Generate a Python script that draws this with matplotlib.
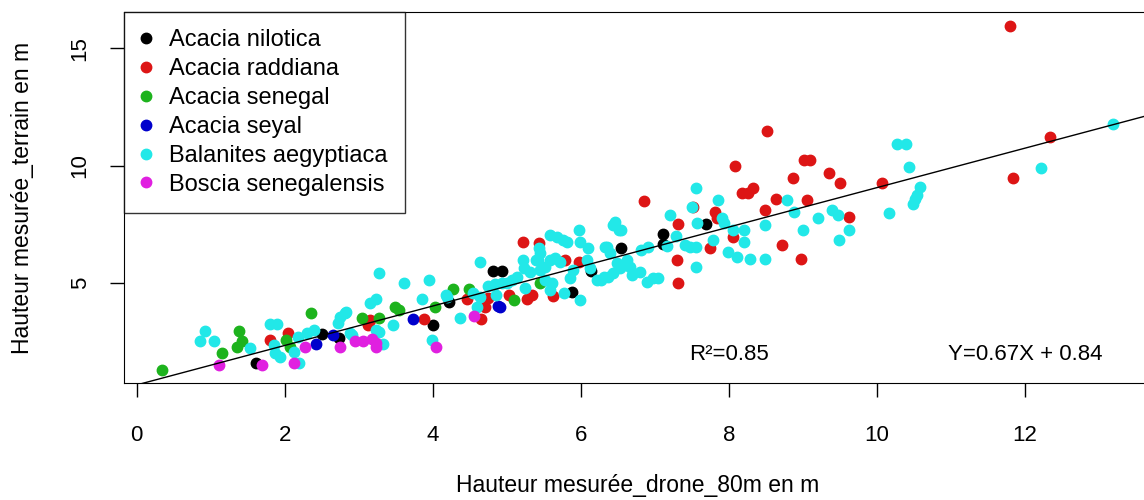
import numpy as np
import matplotlib
matplotlib.use("Agg")
from matplotlib import pyplot as plt

plt.rcParams['font.family'] = ['Liberation Sans', 'DejaVu Sans']

# valeurs (x = drone 80m, y = terrain)
nilotica_x = [1.61, 2.50, 2.74, 4.01, 4.22, 4.82, 4.94, 5.88, 6.14, 6.55, 7.11, 7.11, 7.69]
nilotica_y = [1.60, 2.84, 2.66, 3.22, 4.22, 5.52, 5.52, 4.62, 5.52, 6.52, 7.10, 6.67, 7.52]

raddiana_x = [1.80, 2.05, 3.15, 3.13, 3.88, 4.46, 4.65, 4.71, 4.75, 5.03, 5.27, 5.34, 5.22, 5.43,
              5.63, 5.79, 5.98, 6.86, 7.32, 7.30, 7.31, 7.52, 7.75, 7.81, 7.84, 8.05, 8.08, 8.18,
              8.26, 8.33, 8.51, 8.49, 8.64, 8.72, 8.87, 8.97, 9.01, 9.10, 9.06, 9.35, 9.50, 9.62,
              10.07, 11.80, 11.84, 12.34]
raddiana_y = [2.59, 2.87, 3.45, 3.22, 3.48, 4.32, 3.48, 4.00, 4.36, 4.50, 4.32, 4.50, 6.77, 6.70,
              4.47, 5.99, 5.92, 8.52, 7.52, 5.99, 5.00, 8.26, 6.49, 8.05, 7.77, 6.98, 9.99, 8.83,
              8.83, 9.04, 11.49, 8.12, 8.57, 6.63, 9.47, 6.02, 10.25, 10.25, 8.54, 9.71, 9.28, 7.83,
              9.28, 15.96, 9.47, 11.24]

senegal_x = [0.35, 1.16, 1.38, 1.43, 1.36, 2.02, 2.07, 2.35, 3.04, 3.28, 3.49, 3.54, 4.03, 4.28,
             4.49, 5.10, 5.45]
senegal_y = [1.31, 2.05, 2.98, 2.54, 2.28, 2.59, 2.28, 3.75, 3.51, 3.51, 4.00, 3.86, 4.00, 4.74,
             4.74, 4.29, 5.00]

seyal_x = [2.43, 2.65, 3.74, 4.88, 4.91]
seyal_y = [2.42, 2.80, 3.48, 4.03, 3.98]

balanites_x = [0.86, 0.93, 1.04, 1.53, 1.80, 1.90, 1.85, 1.87, 1.94, 2.12, 2.20, 2.18, 2.30, 2.39,
               2.75, 2.81, 2.72, 2.91, 2.88, 3.15, 3.24, 3.27, 3.24, 2.83, 3.46, 3.28, 3.33, 3.61,
               3.95, 3.85, 3.99, 4.18, 4.37, 4.19, 4.60, 4.54, 4.64, 4.64, 4.75, 4.84, 4.93, 4.86,
               5.00, 5.07, 5.14, 5.22, 5.23, 5.31, 5.25, 5.43, 5.42, 5.45, 5.52, 5.59, 5.65, 5.72,
               5.59, 5.68, 5.76, 5.81, 5.52, 5.61, 5.59, 5.77, 5.86, 5.90, 5.99, 5.98, 5.99, 6.10,
               6.08, 6.13, 6.22, 6.31, 6.33, 6.35, 6.40, 6.46, 6.51, 6.44, 6.55, 6.58, 6.62, 6.67,
               6.69, 6.80, 6.28, 6.37, 6.44, 6.53, 6.49, 6.82, 6.91, 6.89, 6.98, 7.05, 7.21, 7.17,
               7.28, 7.41, 7.48, 7.55, 7.55, 7.55, 7.50, 7.57, 7.79, 7.86, 7.91, 7.93, 7.99, 8.11,
               8.28, 8.06, 8.20, 8.20, 8.49, 8.49, 8.78, 8.88, 9.00, 9.21, 9.39, 9.48, 9.63, 9.49,
               10.27, 10.40, 10.43, 10.16, 10.58, 10.54, 10.52, 10.49, 12.22, 13.19, 5.40, 5.45]
balanites_y = [2.56, 2.98, 2.56, 2.23, 3.27, 3.27, 2.37, 2.02, 1.88, 2.09, 1.60, 2.73, 2.87, 3.01,
               3.58, 3.75, 3.30, 2.80, 2.87, 4.15, 4.32, 5.43, 3.01, 3.79, 3.22, 2.94, 2.42, 5.00,
               5.14, 4.32, 2.59, 4.50, 3.51, 4.43, 4.00, 4.60, 5.92, 4.43, 4.89, 4.97, 5.00, 4.50,
               5.00, 5.14, 5.28, 5.99, 5.64, 5.49, 4.79, 6.49, 5.99, 5.57, 5.71, 5.99, 6.06, 5.92,
               7.06, 6.98, 6.84, 6.77, 5.14, 5.00, 4.71, 4.57, 5.21, 5.57, 4.29, 7.27, 6.77, 6.49,
               5.99, 5.64, 5.14, 5.28, 6.56, 6.56, 6.28, 7.62, 7.27, 7.48, 7.27, 5.78, 5.99, 5.71,
               5.35, 5.49, 5.14, 5.28, 5.43, 5.64, 5.85, 6.42, 6.56, 5.07, 5.21, 5.21, 7.91, 6.58,
               6.99, 6.63, 6.56, 6.56, 5.71, 9.04, 8.26, 7.55, 6.84, 8.54, 7.77, 7.55, 6.34, 6.13,
               6.02, 7.27, 7.27, 6.77, 7.48, 6.02, 8.54, 8.05, 7.27, 7.77, 8.12, 7.91, 7.27, 6.84,
               10.93, 10.93, 9.96, 8.00, 9.09, 8.76, 8.57, 8.37, 9.89, 11.78, 5.99, 6.28]

boscia_x = [1.11, 1.70, 2.13, 2.27, 2.75, 2.95, 3.06, 3.18, 3.24, 3.23, 4.05, 4.56]
boscia_y = [1.52, 1.52, 1.60, 2.28, 2.28, 2.52, 2.52, 2.62, 2.45, 2.28, 2.30, 3.61]

especes = ["Acacia nilotica", "Acacia raddiana", "Acacia senegal", "Acacia seyal",
           "Balanites aegyptiaca", "Boscia senegalensis"]
couleurs = ["#000000", "#DD1515", "#1DB31D", "#0000CC", "#22E8E8", "#E020E0"]

# droite tracee
pente = 0.84
ordonnee = 0.67

fig = plt.figure(figsize=(11.44, 5), dpi=100)
ax = fig.add_axes([124 / 1144, 0.2334, (1173 - 124) / 1144, 0.7432])

series = [(nilotica_x, nilotica_y), (raddiana_x, raddiana_y), (senegal_x, senegal_y),
          (seyal_x, seyal_y), (balanites_x, balanites_y), (boscia_x, boscia_y)]
for (xs, ys), nom, c in zip(series, especes, couleurs):
    ax.plot(xs, ys, 'o', color=c, ms=7.5, mec=c, label=nom)

ax.set_xlim(-0.17, 14.0)
ax.set_ylim(0.74, 16.56)
xx = np.array([-0.17, 14.0])
ax.plot(xx, ordonnee + pente * xx, color="black", lw=1)

ax.text(8, 1.95, "R²=0.85", fontsize=16, ha="center", va="center")
ax.text(12, 1.95, "Y=0.67X + 0.84", fontsize=16, ha="center", va="center")

ax.set_xticks([0, 2, 4, 6, 8, 10, 12])
ax.set_yticks([5, 10, 15])
ax.tick_params(length=10, width=1, labelsize=16)
ax.tick_params(axis="x", pad=20)
ax.tick_params(axis="y", pad=14)
for lab in ax.get_yticklabels():
    lab.set_rotation(90)
    lab.set_va("center")
ax.set_xlabel("Hauteur mesurée_drone_80m en m", fontsize=16.5)
ax.xaxis.set_label_coords(0.49, -0.276)
ax.xaxis.label.set_va("center")
ax.set_ylabel("Hauteur mesurée_terrain en m", fontsize=16.5)
ax.yaxis.set_label_coords(-0.097, 0.5)
ax.yaxis.label.set_va("center")

leg = ax.legend(loc="upper left", fontsize=17, frameon=True, fancybox=False,
                borderaxespad=0, handletextpad=0.76, labelspacing=0.29,
                handlelength=0.4, borderpad=0.75, markerscale=1.0)
leg.get_frame().set_edgecolor("black")
leg.get_frame().set_linewidth(1)

fig.savefig("out.png", dpi=100)
